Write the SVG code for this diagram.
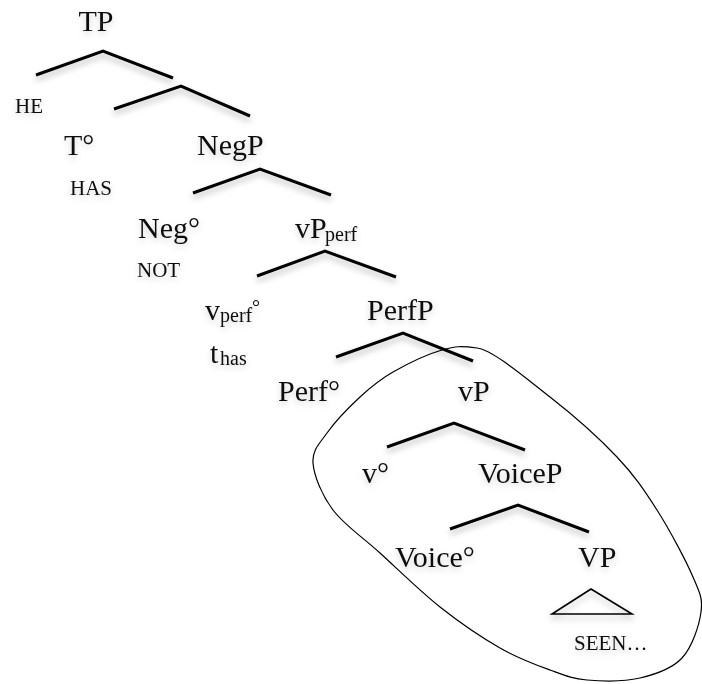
<svg xmlns="http://www.w3.org/2000/svg" width="702" height="684" viewBox="0 0 702 684">
<defs>
<filter id="sh" x="-20%" y="-40%" width="140%" height="200%">
<feDropShadow dx="0" dy="4" stdDeviation="3" flood-color="#000" flood-opacity="0.28"/>
</filter>
<filter id="tsh" x="-20%" y="-20%" width="140%" height="160%">
<feDropShadow dx="0" dy="3" stdDeviation="3" flood-color="#000" flood-opacity="0.18"/>
</filter>
</defs>
<style>
text{font-family:"Liberation Serif","DejaVu Serif",serif;fill:#111;}
.lab{font-size:30px;}
.sm{font-size:21px;}
.sub{font-size:20px;}
.br{fill:none;stroke:#000;stroke-width:3;stroke-linejoin:miter;}
.tri{fill:none;stroke:#000;stroke-width:1.6;}
.loop{fill:none;stroke:#000;stroke-width:1.2;}
g.n{filter:url(#tsh);}
</style>
<rect width="702" height="684" fill="#fff"/>
<g id="connectors">
<g filter="url(#sh)">
<polyline class="br" points="36,75 103,51 173,78"/>
<polyline class="br" points="114,109 181,86 250,116"/>
<polyline class="br" points="193,193 260,169 331,195"/>
<polyline class="br" points="257,276 325,251 396,277"/>
<polyline class="br" points="336,357 403,333 473,361"/>
<polyline class="br" points="387,447 454,423 525,450"/>
<polyline class="br" points="450,529 518,505 589,532"/>
<polygon class="tri" points="591,589 552,614 632,614"/>
</g>
<path id="loop" class="loop" d="M477,348 C493,350 526.7,378.8 550,397 C573.3,415.2 599.2,438.2 617,457 C634.8,475.8 644.3,490 657,510 C669.7,530 685.7,560 693,577 C700.3,594 702.8,598.5 701,612 C699.2,625.5 692.2,647 682,658 C671.8,669 655.8,674.3 640,678 C624.2,681.7 602,681.3 587,680 C572,678.7 564.5,675.3 550,670 C535.5,664.7 518.3,658.5 500,648 C481.7,637.5 460,622.8 440,607 C420,591.2 397.8,569.2 380,553 C362.2,536.8 344.2,525 333,510 C321.8,495 314,475.8 313,463 C312,450.2 319.2,444 327,433 C334.8,422 349,407.2 360,397 C371,386.8 379.3,379.8 393,372 C406.7,364.2 428,354 442,350 C456,346 461,346 477,348 Z"/>
</g>
<g id="TP" class="n"><text class="lab" x="96" y="31" text-anchor="middle">TP</text></g>
<g id="HE" class="n"><text class="sm" x="15" y="113">HE</text></g>
<g id="T" class="n"><text class="lab" x="64" y="155">T°</text></g>
<g id="HAS" class="n"><text class="sm" x="70" y="195">HAS</text></g>
<g id="NegP" class="n"><text class="lab" x="197" y="155">NegP</text></g>
<g id="Neg" class="n"><text class="lab" x="138" y="238">Neg°</text></g>
<g id="NOT" class="n"><text class="sm" x="137" y="277">NOT</text></g>
<g id="vPperf" class="n"><text class="lab" x="295" y="238">vP</text><text class="sub" x="325" y="241">perf</text></g>
<g id="vperf" class="n"><text class="lab" x="205" y="320">v</text><text class="sub" x="220" y="322">perf</text><text class="sub" x="252" y="314">°</text></g>
<g id="thas" class="n"><text class="lab" x="210" y="363">t</text><text class="sub" x="220" y="365">has</text></g>
<g id="PerfP" class="n"><text class="lab" x="367" y="320">PerfP</text></g>
<g id="Perf" class="n"><text class="lab" x="278" y="401">Perf°</text></g>
<g id="vP" class="n"><text class="lab" x="458" y="401">vP</text></g>
<g id="v" class="n"><text class="lab" x="362" y="483">v°</text></g>
<g id="VoiceP" class="n"><text class="lab" x="478" y="483">VoiceP</text></g>
<g id="Voice" class="n"><text class="lab" x="395" y="567">Voice°</text></g>
<g id="VP" class="n"><text class="lab" x="578" y="567">VP</text></g>
<g id="SEEN" class="n"><text class="sm" x="574" y="650">SEEN…</text></g>
</svg>
